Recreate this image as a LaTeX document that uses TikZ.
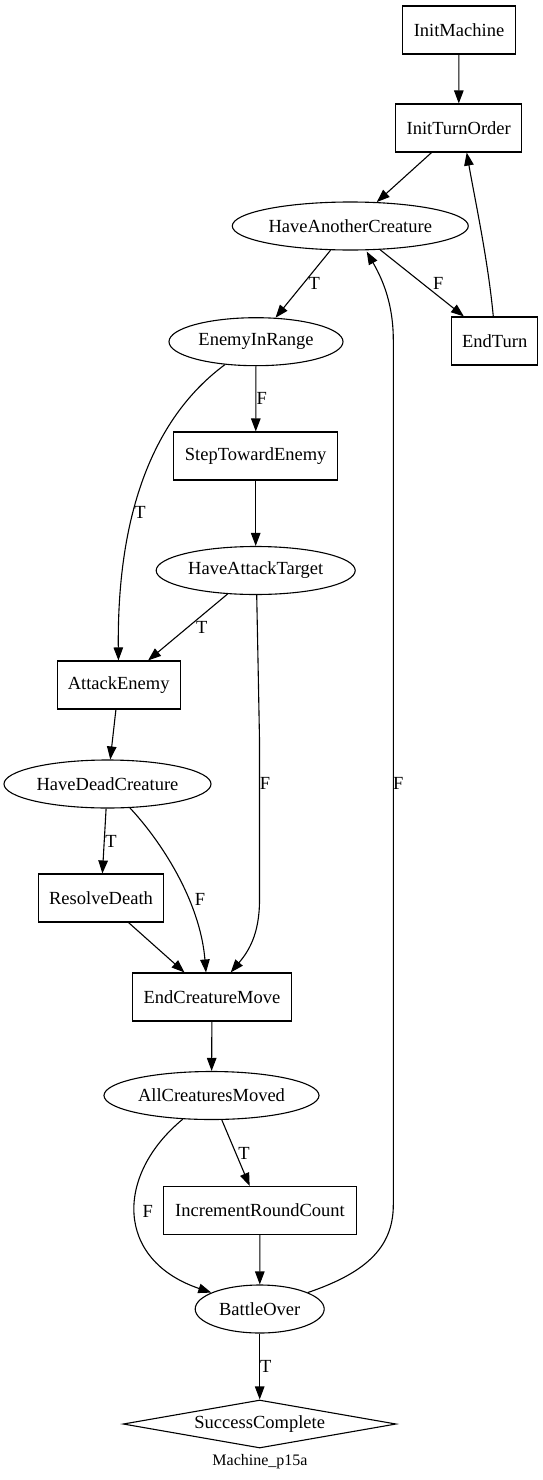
\documentclass[tikz,border=0pt]{standalone}
\usepackage{fontspec}
\setmainfont{Liberation Serif}
\usetikzlibrary{shapes.geometric,arrows.meta,calc}
\begin{document}
\begin{tikzpicture}[x=1pt,y=-1pt,
  every node/.style={font=\fontsize{18.5}{22}\selectfont, inner sep=0pt},
  box/.style={draw, rectangle, minimum height=48pt, line width=1.1pt},
  oval/.style={draw, ellipse, minimum height=48pt, line width=1.1pt},
  dia/.style={draw, diamond, aspect=5.7, minimum height=48pt, line width=1.1pt},
  conn/.style={draw, line width=1.1pt, -{Triangle[length=13pt,width=9.5pt]}},
  lbl/.style={font=\fontsize{18.5}{22}\selectfont}
]
\useasboundingbox (0,0) rectangle (543,1480);

\node[box, minimum width=113pt] (IM) at (459,30) {InitMachine};
\node[box, minimum width=126pt] (ITO) at (458.7,128) {InitTurnOrder};
\node[oval, minimum width=236pt] (HAC) at (350.3,226) {HaveAnotherCreature};
\node[box, minimum width=86pt] (ET) at (494.7,341) {EndTurn};
\node[oval, minimum width=174pt] (EIR) at (256,341.7) {EnemyInRange};
\node[box, minimum width=164pt] (STE) at (255.7,456) {StepTowardEnemy};
\node[oval, minimum width=199pt] (HAT) at (255.7,570.5) {HaveAttackTarget};
\node[box, minimum width=123pt] (AE) at (118.7,685) {AttackEnemy};
\node[oval, minimum width=207pt] (HDC) at (107.5,784) {HaveDeadCreature};
\node[box, minimum width=125pt] (RD) at (101,898) {ResolveDeath};
\node[box, minimum width=159pt] (ECM) at (212,997) {EndCreatureMove};
\node[oval, minimum width=215pt] (ACM) at (211.5,1095.5) {AllCreaturesMoved};
\node[box, minimum width=193pt] (IRC) at (260,1210.5) {IncrementRoundCount};
\node[oval, minimum width=129pt] (BO) at (259.7,1309) {BattleOver};
\node[dia, minimum width=273pt] (SC) at (259.7,1424) {SuccessComplete};
\node[font=\fontsize{16}{19}\selectfont] (title) at (260,1462) {Machine\_p15a};

\draw[conn] (IM) -- (ITO);
\draw[conn] (ITO) -- (HAC);
\draw[conn] (HAC) -- (EIR);
\draw[conn] (HAC) -- (ET);
\draw[conn] ($(ET.north)+(-1.4,0)$) .. controls (488,260) and (475,200) .. ($(ITO.south)+(8,0)$);
\draw[conn] (EIR) -- (STE);
\draw[conn] (EIR) .. controls (150,420) and (117,520) .. (AE);
\draw[conn] (STE) -- (HAT);
\draw[conn] (HAT) -- (AE);
\draw[conn] ($(HAT.south)+(1,0)$) .. controls (258,660) .. (259.5,740) -- (259.5,900) .. controls (259.5,935) and (248,952) .. ($(ECM.north)+(18.7,0)$);
\draw[conn] (AE) -- (HDC);
\draw[conn] (HDC) -- (RD);
\draw[conn] (HDC) .. controls (160,840) and (200,900) .. ($(ECM.north)+(-6,0)$);
\draw[conn] (RD) -- (ECM);
\draw[conn] (ECM) -- (ACM);
\draw[conn] (ACM) -- (IRC);
\draw[conn] (ACM) .. controls (115,1175) and (115,1260) .. (BO);
\draw[conn] (IRC) -- (BO);
\draw[conn] (BO) .. controls (362,1274) and (393.3,1250) .. (393.3,1205) -- (393.3,340) .. controls (393.3,300) and (380,275) .. ($(HAC.south)+(16.4,1)$);
\draw[conn] (BO) -- (SC);

\node[lbl] (l1) at (314.3,283.3) {T};
\node[lbl] (l2) at (438.3,283.3) {F};
\node[lbl] (l3) at (261.7,398.3) {F};
\node[lbl] (l4) at (140,512.7) {T};
\node[lbl] (l5) at (201.7,627.7) {T};
\node[lbl] (l6) at (265,783.3) {F};
\node[lbl] (l7) at (398.3,783.3) {F};
\node[lbl] (l8) at (111,841.7) {T};
\node[lbl] (l9) at (200,899.3) {F};
\node[lbl] (l10) at (244,1153.3) {T};
\node[lbl] (l11) at (147.7,1211.7) {F};
\node[lbl] (l12) at (265.7,1366.7) {T};
\end{tikzpicture}
\end{document}
